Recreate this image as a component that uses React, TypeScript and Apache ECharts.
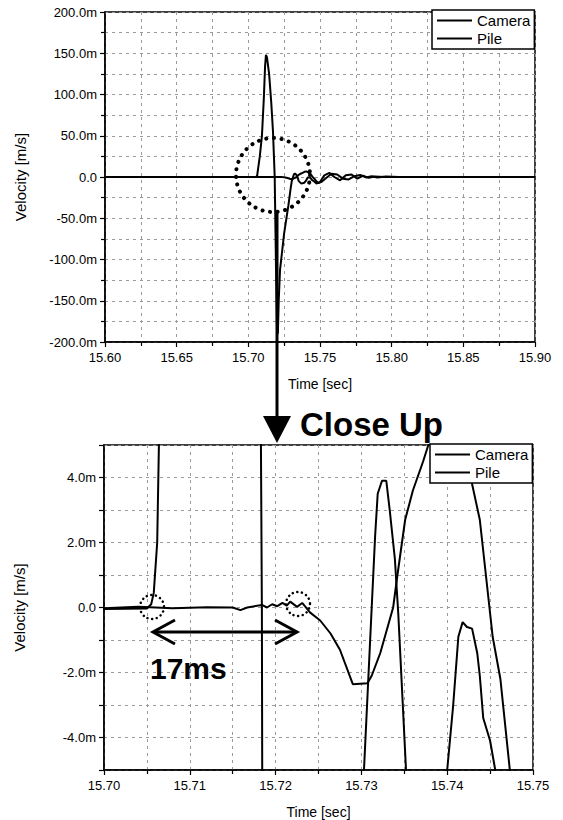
import React, { useEffect, useRef } from 'react';
import * as echarts from 'echarts';

// ---------- data (velocity in milli m/s, time in s) ----------
const seriesNames = ['Camera', 'Pile'];

const timeCamera = [15.600, 15.700, 15.7040, 15.7080, 15.7120, 15.7150, 15.7159, 15.7167, 15.7184, 15.7190, 15.7196, 15.7202, 15.7208, 15.7213, 15.7217, 15.7225, 15.7231, 15.7237, 15.7240, 15.7252, 15.7264, 15.7275, 15.7290, 15.7307, 15.7312, 15.7322, 15.7337, 15.7342, 15.7351, 15.7360, 15.7372, 15.7378, 15.7392, 15.7405, 15.7415, 15.7421, 15.7429, 15.7438, 15.7448, 15.7453, 15.7462, 15.7473, 15.7490, 15.7510, 15.7545, 15.7580, 15.7620, 15.7660, 15.7700, 15.7740, 15.7780, 15.7820, 15.7860, 15.7900, 15.7960, 15.8050, 15.9000];
const velCamera = [0, -0.02, 0.02, -0.02, 0.01, 0, -0.08, 0, 0.08, 0, 0.1, 0.04, 0.14, 0.06, 0.18, 0.02, 0.14, -0.05, -0.15, -0.4, -0.8, -1.3, -2.36, -2.33, -2.1, -1.4, 0, 1.0, 2.7, 3.6, 4.5, 5.0, 6.3, 6.8, 6.0, 5.0, 3.8, 2.7, 0.3, -0.9, -2.2, -5, -7.5, -6, -1, 4, 3, -2, -3, 1, 2.5, -0.5, 1, -0.5, 0.5, 0, 0];

const timePile = [15.600, 15.700, 15.7050, 15.7055, 15.7058, 15.7062, 15.7064, 15.7080, 15.7095, 15.7108, 15.7117, 15.7123, 15.7130, 15.7145, 15.7160, 15.7172, 15.7184, 15.7193, 15.7200, 15.7206, 15.7212, 15.7221, 15.7250, 15.7279, 15.7295, 15.7303, 15.7312, 15.7316, 15.7319, 15.7324, 15.7329, 15.7333, 15.7339, 15.7343, 15.7352, 15.7370, 15.7390, 15.7400, 15.7407, 15.7413, 15.7418, 15.7423, 15.7429, 15.7435, 15.7438, 15.7442, 15.7450, 15.7456, 15.7475, 15.7500, 15.7530, 15.7565, 15.7600, 15.7640, 15.7680, 15.7720, 15.7760, 15.7800, 15.7840, 15.7880, 15.7950, 15.9000];
const velPile = [0, -0.05, -0.03, 0.1, 0.45, 2.0, 5.0, 25, 50, 95, 135, 148, 145, 125, 90, 55, 0, -110, -185, -190, -150, -113, -68, -35, -14, -5, 0, 2.2, 3.5, 3.9, 3.9, 3.0, 1.5, -0.2, -5, -8, -7, -5, -3, -0.9, -0.45, -0.6, -0.65, -1.4, -2.1, -3.4, -4.1, -5, -8, -6, 2, 5, 0, -4, 2, 3, -2, 1.5, -1, 0.5, 0, 0];

// axis ranges [min, max, interval]
const overviewTime = [15.6, 15.9, 0.05];
const overviewVel = [-200, 200, 50];
const closeTime = [15.7, 15.75, 0.01];
const closeVel = [-5, 5, 1];

const xTitle = 'Time [sec]';
const yTitle = 'Velocity [m/s]';
const closeUpText = 'Close Up';
const delayText = '17ms';

const FONT = '"Liberation Sans", Arial, Helvetica, sans-serif';

const fmtVel = (v: number) => (Math.abs(v) < 1e-9 ? '0.0' : `${v.toFixed(1)}m`);
const fmtTime = (v: number) => v.toFixed(2);

const gridLine = { show: true, lineStyle: { color: '#9a9a9a', width: 1, type: [3, 4] as any } };

function xAxisCfg(gi: number, r: number[]) {
  return {
    type: 'value', gridIndex: gi, min: r[0], max: r[1], interval: r[2],
    axisLine: { show: true, onZero: false, lineStyle: { color: '#000', width: 1.5 } },
    axisTick: { show: true, length: 5, lineStyle: { color: '#000', width: 1.2 } },
    minorTick: { show: true, splitNumber: 2, length: 4, lineStyle: { color: '#000', width: 1.2 } },
    splitLine: gridLine,
    minorSplitLine: gridLine,
    axisLabel: { formatter: fmtTime, fontSize: 13, color: '#000', margin: 9, fontFamily: FONT },
    name: xTitle, nameLocation: 'middle', nameGap: 35,
    nameTextStyle: { fontSize: 14, color: '#000', fontFamily: FONT },
  };
}

function yAxisCfg(gi: number, r: number[], minor: boolean, fmt: (v: number) => string) {
  return {
    type: 'value', gridIndex: gi, min: r[0], max: r[1], interval: r[2],
    axisLine: { show: true, onZero: false, lineStyle: { color: '#000', width: 1.5 } },
    axisTick: { show: true, length: 5, lineStyle: { color: '#000', width: 1.2 } },
    minorTick: { show: minor, splitNumber: 2, length: 4, lineStyle: { color: '#000', width: 1.2 } },
    splitLine: gridLine,
    minorSplitLine: { ...gridLine, show: minor },
    axisLabel: { formatter: fmt, fontSize: 13, color: '#000', margin: 8, fontFamily: FONT },
    name: yTitle, nameLocation: 'middle', nameGap: 77,
    nameTextStyle: { fontSize: 15, color: '#000', fontFamily: FONT },
  };
}

function lineSeries(name: string, t: number[], v: number[], gi: number) {
  return {
    type: 'line', name, xAxisIndex: gi, yAxisIndex: gi,
    data: t.map((x, i) => [x, v[i]]),
    showSymbol: false, symbol: 'none', clip: true, z: 3,
    lineStyle: { color: '#000', width: 2 },
    itemStyle: { color: '#000' },
  };
}

function legendCfg(left: number, top: number) {
  return {
    data: seriesNames, left, top, orient: 'vertical', icon: 'rect',
    itemWidth: 35, itemHeight: 2, itemGap: 3, padding: [3, 4, 3, 5],
    borderColor: '#000', borderWidth: 1.5, backgroundColor: '#fff',
    selectedMode: false,
    textStyle: { fontSize: 15, color: '#000', fontFamily: FONT },
  };
}

const dotted = (w: number, gap: number) => ({ fill: 'none', stroke: '#000', lineWidth: w, lineDash: [0.1, gap], lineCap: 'round' });

export default function App() {
  const ref = useRef<HTMLDivElement>(null);
  useEffect(() => {
    if (!ref.current) return;
    const chart = echarts.init(ref.current, undefined, { renderer: 'svg' });
    chart.setOption({
      animation: false,
      backgroundColor: '#fff',
      grid: [
        { left: 105, top: 12, width: 430, height: 330, show: true, borderColor: '#000', borderWidth: 1.5, backgroundColor: 'transparent' },
        { left: 104, top: 445, width: 429, height: 328, show: true, borderColor: '#000', borderWidth: 1.5, backgroundColor: 'transparent' },
      ],
      xAxis: [xAxisCfg(0, overviewTime), xAxisCfg(1, closeTime)],
      yAxis: [
        yAxisCfg(0, overviewVel, true, fmtVel),
        yAxisCfg(1, closeVel, false, (v: number) => (Math.round(v) % 2 === 0 ? fmtVel(v) : '')),
      ],
      legend: [legendCfg(432, 10), legendCfg(430, 444)],
      series: [
        lineSeries(seriesNames[0], timeCamera, velCamera, 0),
        lineSeries(seriesNames[1], timePile, velPile, 0),
        lineSeries(seriesNames[0], timeCamera, velCamera, 1),
        lineSeries(seriesNames[1], timePile, velPile, 1),
      ],
      graphic: [
        { type: 'circle', z: 100, shape: { cx: 273, cy: 175, r: 37 }, style: dotted(4, 7.5) },
        { type: 'circle', z: 100, shape: { cx: 152, cy: 607, r: 12 }, style: dotted(2.5, 4.5) },
        { type: 'circle', z: 100, shape: { cx: 298, cy: 604, r: 12 }, style: dotted(2.5, 4.5) },
        { type: 'line', z: 100, shape: { x1: 277, y1: 212, x2: 277, y2: 420 }, style: { stroke: '#000', lineWidth: 3 } },
        { type: 'polygon', z: 100, shape: { points: [[263, 416], [291, 416], [277, 443]] }, style: { fill: '#000' } },
        { type: 'text', z: 100, x: 300, y: 424, style: { text: closeUpText, fontSize: 33, fontWeight: 'bold', fontFamily: FONT, fill: '#000', verticalAlign: 'middle' } },
        { type: 'line', z: 100, shape: { x1: 154, y1: 632, x2: 295, y2: 632 }, style: { stroke: '#000', lineWidth: 3 } },
        { type: 'polyline', z: 100, shape: { points: [[175, 620], [153, 632], [175, 644]] }, style: { stroke: '#000', lineWidth: 3, fill: 'none' } },
        { type: 'polyline', z: 100, shape: { points: [[275, 620], [297, 632], [275, 644]] }, style: { stroke: '#000', lineWidth: 3, fill: 'none' } },
        { type: 'text', z: 100, x: 150, y: 668, style: { text: delayText, fontSize: 30, fontWeight: 'bold', fontFamily: FONT, fill: '#000', verticalAlign: 'middle' } },
      ],
    });
    return () => chart.dispose();
  }, []);
  return <div ref={ref} style={{ position: 'fixed', left: 0, top: 0, width: 563, height: 820, background: '#fff' }} />;
}
